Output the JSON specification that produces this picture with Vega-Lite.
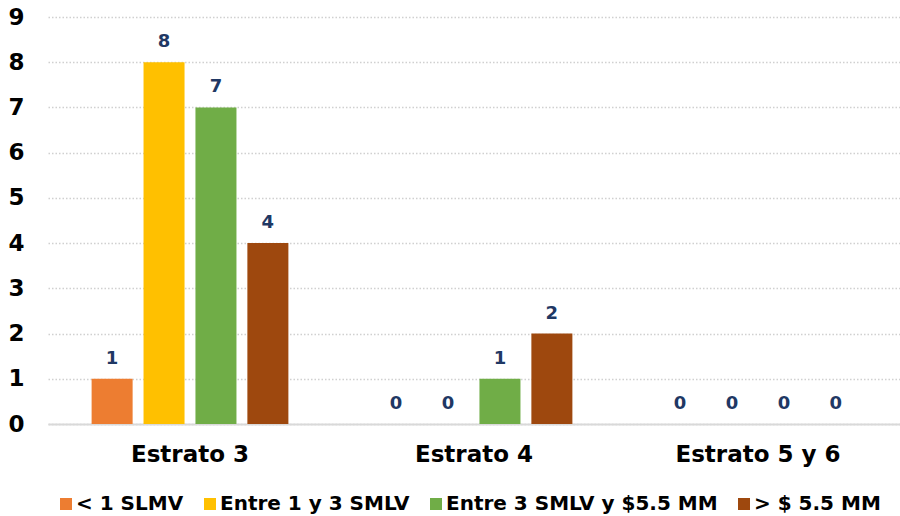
{
  "$schema": "https://vega.github.io/schema/vega-lite/v6.json",
  "width": 852,
  "height": 407,
  "autosize": "none",
  "padding": {"left": 48, "top": 17, "right": 0, "bottom": 92},
  "background": "white",
  "config": {"view": {"stroke": null}, "font": "DejaVu Sans"},
  "data": {
    "values": [
      {"estrato": "Estrato 3", "rango": "< 1 SLMV", "valor": 1},
      {"estrato": "Estrato 3", "rango": "Entre 1 y 3 SMLV", "valor": 8},
      {"estrato": "Estrato 3", "rango": "Entre 3 SMLV y $5.5 MM", "valor": 7},
      {"estrato": "Estrato 3", "rango": "> $ 5.5 MM", "valor": 4},
      {"estrato": "Estrato 4", "rango": "< 1 SLMV", "valor": 0},
      {"estrato": "Estrato 4", "rango": "Entre 1 y 3 SMLV", "valor": 0},
      {"estrato": "Estrato 4", "rango": "Entre 3 SMLV y $5.5 MM", "valor": 1},
      {"estrato": "Estrato 4", "rango": "> $ 5.5 MM", "valor": 2},
      {"estrato": "Estrato 5 y 6", "rango": "< 1 SLMV", "valor": 0},
      {"estrato": "Estrato 5 y 6", "rango": "Entre 1 y 3 SMLV", "valor": 0},
      {"estrato": "Estrato 5 y 6", "rango": "Entre 3 SMLV y $5.5 MM", "valor": 0},
      {"estrato": "Estrato 5 y 6", "rango": "> $ 5.5 MM", "valor": 0}
    ]
  },
  "encoding": {
    "x": {
      "field": "estrato",
      "type": "nominal",
      "sort": ["Estrato 3", "Estrato 4", "Estrato 5 y 6"],
      "scale": {"paddingInner": 0, "paddingOuter": 0},
      "axis": {
        "title": null,
        "labelAngle": 0,
        "ticks": false,
        "labelPadding": 19,
        "labelFontSize": 23,
        "labelFontWeight": "bold",
        "labelColor": "black",
        "domainColor": "#D9D9D9",
        "domainWidth": 2,
        "grid": false
      }
    },
    "xOffset": {
      "field": "rango",
      "type": "nominal",
      "sort": ["< 1 SLMV", "Entre 1 y 3 SMLV", "Entre 3 SMLV y $5.5 MM", "> $ 5.5 MM"],
      "scale": {"paddingInner": 0.21, "paddingOuter": 0.84}
    },
    "y": {
      "field": "valor",
      "type": "quantitative",
      "scale": {"domain": [0, 9], "nice": false},
      "axis": {
        "title": null,
        "values": [0, 1, 2, 3, 4, 5, 6, 7, 8, 9],
        "ticks": false,
        "domain": false,
        "labelPadding": 24,
        "labelFontSize": 23,
        "labelFontWeight": "bold",
        "labelColor": "black",
        "gridColor": "#D0D0D0",
        "gridDash": [1.5, 2],
        "gridWidth": 1.5
      }
    }
  },
  "layer": [
    {
      "mark": {"type": "bar"},
      "encoding": {
        "color": {
          "field": "rango",
          "type": "nominal",
          "sort": ["< 1 SLMV", "Entre 1 y 3 SMLV", "Entre 3 SMLV y $5.5 MM", "> $ 5.5 MM"],
          "scale": {
            "domain": ["< 1 SLMV", "Entre 1 y 3 SMLV", "Entre 3 SMLV y $5.5 MM", "> $ 5.5 MM"],
            "range": ["#ED7D31", "#FFC000", "#70AD47", "#9E480E"]
          },
          "legend": {
            "orient": "none",
            "legendX": 8,
            "legendY": 477,
            "direction": "horizontal",
            "title": null,
            "symbolType": "square",
            "symbolSize": 144,
            "symbolStrokeWidth": 0,
            "labelFontSize": 20,
            "labelFontWeight": "bold",
            "labelColor": "black",
            "labelLimit": 0,
            "columnPadding": 16,
            "labelOffset": 0,
            "padding": 0
          }
        }
      }
    },
    {
      "mark": {"type": "text", "baseline": "alphabetic", "dy": -15, "fontSize": 18, "fontWeight": "bold", "color": "#1F3864"},
      "encoding": {"text": {"field": "valor", "type": "quantitative"}}
    }
  ]
}
